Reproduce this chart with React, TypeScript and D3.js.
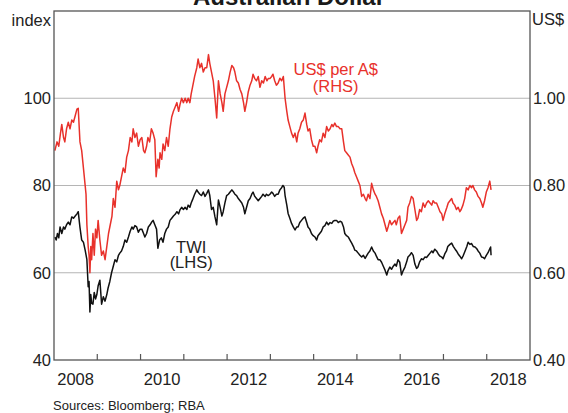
import React from 'react';
import * as d3 from 'd3';

// US$ per A$ (RHS), [decimal year, value]
const audSeries: [number, number][] = [
  [2008.02, 0.88], [2008.07, 0.9], [2008.11, 0.89], [2008.15, 0.92], [2008.18, 0.94], [2008.22, 0.91],
  [2008.25, 0.9], [2008.29, 0.93], [2008.33, 0.945], [2008.37, 0.93], [2008.41, 0.95], [2008.45, 0.945],
  [2008.49, 0.96], [2008.53, 0.975], [2008.56, 0.977], [2008.6, 0.9], [2008.64, 0.88], [2008.67, 0.85],
  [2008.72, 0.8], [2008.74, 0.78], [2008.76, 0.71], [2008.79, 0.66], [2008.81, 0.64], [2008.83, 0.6],
  [2008.85, 0.66], [2008.87, 0.63], [2008.9, 0.69], [2008.93, 0.64], [2008.96, 0.7], [2008.99, 0.68],
  [2009.02, 0.72], [2009.06, 0.675], [2009.1, 0.64], [2009.14, 0.65], [2009.18, 0.63], [2009.22, 0.66],
  [2009.26, 0.69], [2009.3, 0.71], [2009.34, 0.73], [2009.37, 0.77], [2009.41, 0.75], [2009.45, 0.81],
  [2009.49, 0.79], [2009.52, 0.8], [2009.56, 0.82], [2009.6, 0.84], [2009.64, 0.83], [2009.68, 0.865],
  [2009.72, 0.88], [2009.76, 0.91], [2009.8, 0.9], [2009.83, 0.93], [2009.87, 0.91], [2009.91, 0.92],
  [2009.95, 0.89], [2009.99, 0.905], [2010.03, 0.91], [2010.07, 0.88], [2010.1, 0.875], [2010.14, 0.89],
  [2010.17, 0.91], [2010.21, 0.9], [2010.25, 0.93], [2010.29, 0.92], [2010.33, 0.905], [2010.36, 0.82],
  [2010.4, 0.86], [2010.43, 0.84], [2010.45, 0.875], [2010.49, 0.86], [2010.52, 0.895], [2010.56, 0.88],
  [2010.6, 0.91], [2010.64, 0.89], [2010.68, 0.93], [2010.72, 0.957], [2010.76, 0.97], [2010.8, 0.98],
  [2010.84, 0.99], [2010.88, 0.97], [2010.91, 0.985], [2010.95, 1.0], [2010.99, 0.99], [2011.03, 1.0],
  [2011.07, 0.99], [2011.1, 1.0], [2011.14, 0.99], [2011.17, 1.01], [2011.2, 1.025], [2011.25, 1.05],
  [2011.3, 1.07], [2011.33, 1.09], [2011.37, 1.07], [2011.41, 1.08], [2011.45, 1.06], [2011.49, 1.07],
  [2011.53, 1.07], [2011.57, 1.1], [2011.6, 1.08], [2011.64, 1.06], [2011.68, 1.04], [2011.72, 1.0],
  [2011.76, 0.955], [2011.8, 1.04], [2011.84, 1.01], [2011.88, 0.99], [2011.91, 0.97], [2011.95, 1.01],
  [2011.99, 1.025], [2012.03, 1.04], [2012.07, 1.06], [2012.11, 1.075], [2012.15, 1.07], [2012.18, 1.06],
  [2012.22, 1.04], [2012.26, 1.035], [2012.3, 1.02], [2012.34, 1.01], [2012.38, 0.99], [2012.41, 0.97],
  [2012.45, 0.99], [2012.49, 1.015], [2012.53, 1.03], [2012.57, 1.04], [2012.6, 1.055], [2012.64, 1.045],
  [2012.68, 1.04], [2012.72, 1.05], [2012.76, 1.025], [2012.8, 1.04], [2012.84, 1.035], [2012.88, 1.05],
  [2012.92, 1.04], [2012.95, 1.045], [2012.99, 1.045], [2013.03, 1.05], [2013.06, 1.055], [2013.1, 1.04],
  [2013.14, 1.03], [2013.18, 1.035], [2013.22, 1.046], [2013.26, 1.04], [2013.3, 1.05], [2013.34, 1.0],
  [2013.38, 0.97], [2013.41, 0.95], [2013.45, 0.935], [2013.49, 0.92], [2013.53, 0.91], [2013.57, 0.92],
  [2013.61, 0.9], [2013.64, 0.92], [2013.68, 0.93], [2013.72, 0.945], [2013.76, 0.95], [2013.8, 0.966],
  [2013.84, 0.94], [2013.87, 0.925], [2013.91, 0.93], [2013.95, 0.905], [2013.99, 0.89], [2014.03, 0.89],
  [2014.07, 0.875], [2014.1, 0.89], [2014.14, 0.905], [2014.18, 0.9], [2014.22, 0.92], [2014.26, 0.91],
  [2014.3, 0.935], [2014.34, 0.925], [2014.38, 0.93], [2014.42, 0.94], [2014.45, 0.935], [2014.49, 0.943],
  [2014.53, 0.935], [2014.57, 0.935], [2014.61, 0.93], [2014.65, 0.93], [2014.69, 0.9], [2014.72, 0.88],
  [2014.76, 0.875], [2014.8, 0.87], [2014.84, 0.865], [2014.88, 0.85], [2014.92, 0.84], [2014.95, 0.83],
  [2014.99, 0.82], [2015.03, 0.81], [2015.07, 0.8], [2015.11, 0.775], [2015.15, 0.78], [2015.19, 0.77],
  [2015.22, 0.765], [2015.26, 0.78], [2015.3, 0.77], [2015.34, 0.805], [2015.38, 0.79], [2015.42, 0.78],
  [2015.45, 0.775], [2015.49, 0.765], [2015.53, 0.75], [2015.57, 0.735], [2015.61, 0.725], [2015.65, 0.71],
  [2015.69, 0.695], [2015.72, 0.705], [2015.76, 0.72], [2015.8, 0.71], [2015.84, 0.715], [2015.88, 0.72],
  [2015.91, 0.71], [2015.95, 0.725], [2015.99, 0.73], [2016.03, 0.69], [2016.07, 0.7], [2016.11, 0.71],
  [2016.15, 0.72], [2016.18, 0.75], [2016.22, 0.76], [2016.26, 0.775], [2016.3, 0.77], [2016.34, 0.745],
  [2016.38, 0.72], [2016.41, 0.725], [2016.45, 0.745], [2016.49, 0.74], [2016.53, 0.76], [2016.57, 0.75],
  [2016.61, 0.76], [2016.65, 0.765], [2016.69, 0.76], [2016.73, 0.755], [2016.76, 0.765], [2016.8, 0.76],
  [2016.84, 0.76], [2016.88, 0.75], [2016.92, 0.74], [2016.96, 0.735], [2016.99, 0.72], [2017.03, 0.735],
  [2017.08, 0.75], [2017.11, 0.76], [2017.15, 0.765], [2017.19, 0.77], [2017.22, 0.76], [2017.26, 0.755],
  [2017.3, 0.745], [2017.34, 0.75], [2017.38, 0.74], [2017.41, 0.745], [2017.45, 0.755], [2017.49, 0.77],
  [2017.53, 0.795], [2017.57, 0.79], [2017.61, 0.8], [2017.65, 0.795], [2017.68, 0.8], [2017.72, 0.79],
  [2017.76, 0.785], [2017.8, 0.775], [2017.84, 0.77], [2017.88, 0.76], [2017.91, 0.75], [2017.95, 0.765],
  [2017.99, 0.785], [2018.03, 0.795], [2018.07, 0.81], [2018.1, 0.79],
];

// trade-weighted index (LHS)
const twiSeries: [number, number][] = [
  [2008.02, 68.2], [2008.05, 67.5], [2008.08, 69], [2008.11, 68], [2008.14, 70.5], [2008.18, 69],
  [2008.22, 70.5], [2008.25, 70], [2008.29, 71], [2008.33, 71.6], [2008.37, 71], [2008.41, 72.8],
  [2008.45, 72.5], [2008.49, 73], [2008.53, 73.5], [2008.56, 74], [2008.6, 70.4], [2008.64, 67.5],
  [2008.68, 67], [2008.72, 65.2], [2008.76, 63], [2008.79, 56.8], [2008.81, 58], [2008.83, 51],
  [2008.85, 55], [2008.87, 53], [2008.9, 52.8], [2008.93, 55.5], [2008.96, 54], [2008.99, 55],
  [2009.02, 57], [2009.06, 58.3], [2009.1, 52.8], [2009.14, 54.5], [2009.18, 53.5], [2009.22, 55],
  [2009.25, 56.5], [2009.29, 58], [2009.33, 60], [2009.37, 61.5], [2009.41, 63], [2009.45, 62.5],
  [2009.49, 64], [2009.52, 64.5], [2009.56, 65], [2009.6, 66], [2009.64, 67.5], [2009.68, 67],
  [2009.72, 68.2], [2009.76, 69.5], [2009.8, 70.5], [2009.83, 70], [2009.87, 70.8], [2009.91, 70.5],
  [2009.95, 69.3], [2009.99, 70], [2010.03, 70], [2010.07, 69], [2010.1, 68.2], [2010.14, 69],
  [2010.18, 70.5], [2010.22, 71], [2010.25, 71.5], [2010.29, 72], [2010.33, 71], [2010.37, 70],
  [2010.4, 65.6], [2010.44, 67.5], [2010.48, 68], [2010.52, 67], [2010.56, 69], [2010.6, 70],
  [2010.64, 70.5], [2010.68, 72], [2010.72, 72.5], [2010.76, 73], [2010.8, 73.4], [2010.84, 74],
  [2010.88, 73.5], [2010.91, 74.4], [2010.95, 75], [2010.99, 74.5], [2011.03, 75], [2011.07, 74.5],
  [2011.1, 75.5], [2011.14, 75], [2011.17, 76], [2011.2, 76.7], [2011.25, 78], [2011.3, 79],
  [2011.33, 78.5], [2011.37, 78], [2011.41, 77.7], [2011.45, 78.5], [2011.49, 77.5], [2011.53, 78.2],
  [2011.57, 79], [2011.6, 77.7], [2011.64, 74.5], [2011.68, 75], [2011.72, 72.8], [2011.76, 71],
  [2011.8, 76.7], [2011.84, 75], [2011.88, 73], [2011.91, 74], [2011.95, 76], [2011.99, 77.7],
  [2012.03, 78], [2012.07, 78.5], [2012.11, 79], [2012.15, 78.5], [2012.18, 78], [2012.22, 77.7],
  [2012.26, 77], [2012.3, 76.5], [2012.34, 76], [2012.38, 75], [2012.41, 73.5], [2012.45, 75],
  [2012.49, 76.5], [2012.53, 77], [2012.57, 78], [2012.6, 78.5], [2012.64, 77.5], [2012.68, 77],
  [2012.72, 76.5], [2012.76, 77], [2012.8, 77.5], [2012.83, 78], [2012.88, 77.5], [2012.91, 78],
  [2012.95, 77.7], [2012.99, 78], [2013.03, 78.5], [2013.06, 78.2], [2013.1, 77.5], [2013.14, 78],
  [2013.18, 78], [2013.22, 79], [2013.26, 79.5], [2013.29, 80], [2013.32, 79.6], [2013.34, 77.7],
  [2013.38, 75.5], [2013.41, 73.6], [2013.45, 72.5], [2013.49, 71.3], [2013.53, 70.5], [2013.57, 69.8],
  [2013.61, 70.5], [2013.64, 70.5], [2013.68, 71.5], [2013.72, 72], [2013.76, 72.5], [2013.8, 72.8],
  [2013.84, 71.5], [2013.87, 70.5], [2013.91, 70], [2013.95, 69], [2013.99, 68.5], [2014.03, 68.2],
  [2014.07, 67.5], [2014.1, 68.5], [2014.14, 69], [2014.18, 69.5], [2014.22, 70.5], [2014.26, 70.8],
  [2014.3, 71.6], [2014.34, 71], [2014.38, 71.5], [2014.42, 71.3], [2014.45, 71.8], [2014.49, 72],
  [2014.53, 72], [2014.57, 71.5], [2014.61, 71.8], [2014.65, 71.6], [2014.69, 70.5], [2014.72, 69],
  [2014.76, 68.5], [2014.8, 68.2], [2014.84, 67.5], [2014.88, 66.8], [2014.92, 66], [2014.95, 65.2],
  [2014.99, 65], [2015.03, 64.5], [2015.07, 64], [2015.11, 63.6], [2015.15, 64], [2015.19, 63.3],
  [2015.22, 63.8], [2015.26, 64.5], [2015.3, 65], [2015.34, 65.9], [2015.38, 65], [2015.42, 64.5],
  [2015.45, 63.8], [2015.49, 63], [2015.53, 63], [2015.57, 62.4], [2015.61, 61.5], [2015.65, 60.6],
  [2015.69, 59.5], [2015.72, 60.5], [2015.76, 61.3], [2015.8, 60.8], [2015.84, 61.5], [2015.88, 62],
  [2015.91, 61.5], [2015.95, 63], [2015.99, 62.4], [2016.03, 59.5], [2016.07, 60.5], [2016.11, 61.3],
  [2016.15, 62.5], [2016.18, 63.6], [2016.22, 64], [2016.26, 64.6], [2016.3, 64], [2016.34, 62],
  [2016.38, 61], [2016.41, 61.3], [2016.45, 62.5], [2016.49, 63.2], [2016.53, 63], [2016.57, 63.6],
  [2016.61, 63.5], [2016.65, 64], [2016.69, 64.5], [2016.73, 65], [2016.76, 64.6], [2016.8, 65.4],
  [2016.84, 65], [2016.88, 64.3], [2016.92, 63.8], [2016.96, 63.6], [2016.99, 63.2], [2017.03, 64.3],
  [2017.07, 65], [2017.1, 66], [2017.15, 66.5], [2017.19, 66.8], [2017.23, 66], [2017.27, 65.4],
  [2017.3, 65], [2017.34, 64.3], [2017.38, 63.8], [2017.42, 63.2], [2017.46, 64], [2017.5, 65],
  [2017.54, 66], [2017.57, 67], [2017.61, 66.5], [2017.65, 66.7], [2017.69, 66], [2017.73, 65.9],
  [2017.77, 65.5], [2017.8, 65], [2017.84, 64.5], [2017.88, 63.6], [2017.92, 63.5], [2017.95, 63.2],
  [2017.99, 64], [2018.03, 64.6], [2018.07, 65.5], [2018.09, 65.9], [2018.1, 64],
];

const leftTicks = [40, 60, 80, 100];
const rightTicks = [0.4, 0.6, 0.8, 1.0];
const gridLines = [60, 80, 100];
const yearLabels = [2008, 2010, 2012, 2014, 2016, 2018];

const W = 568;
const H = 413;
const margin = { top: 11, right: 38, bottom: 53, left: 54 };
const font = 'Arial, "Liberation Sans", sans-serif';
const red = '#e8312b';
const frame = '#555555';

export default function App() {
  const innerW = W - margin.left - margin.right;
  const innerH = H - margin.top - margin.bottom;

  const x = d3.scaleLinear().domain([2008, 2019]).range([0, innerW]);
  const yL = d3.scaleLinear().domain([40, 120]).range([innerH, 0]);
  const yR = d3.scaleLinear().domain([0.4, 1.2]).range([innerH, 0]);

  const twiLine = d3.line<[number, number]>().x(d => x(d[0])).y(d => yL(d[1]));
  const audLine = d3.line<[number, number]>().x(d => x(d[0])).y(d => yR(d[1]));

  const yearTicks = d3.range(2009, 2019);

  return (
    <svg width={W} height={H} style={{ position: 'absolute', left: 0, top: 0 }} fontFamily={font}>
      <text x={289} y={4.5} textAnchor="middle" fontSize={24} fontWeight="bold" fill="#1a1a1a">
        Australian Dollar
      </text>
      <g transform={`translate(${margin.left},${margin.top})`}>
        {gridLines.map(v => (
          <line key={v} x1={0} x2={innerW} y1={yL(v)} y2={yL(v)} stroke="#b5b5b5" strokeWidth={1.2} />
        ))}
        <path d={audLine(audSeries) || ''} fill="none" stroke={red} strokeWidth={1.5} strokeLinejoin="round" />
        <path d={twiLine(twiSeries) || ''} fill="none" stroke="#111" strokeWidth={1.5} strokeLinejoin="round" />
        <rect x={0} y={0} width={innerW} height={innerH} fill="none" stroke={frame} strokeWidth={1.3} />
        {yearTicks.map(t => (
          <line key={t} x1={x(t)} x2={x(t)} y1={innerH} y2={innerH - 6} stroke={frame} strokeWidth={1.2} />
        ))}
        {leftTicks.map(v => (
          <text key={v} x={-3} y={yL(v)} dy="0.35em" textAnchor="end" fontSize={16.5} fill="#222">
            {v}
          </text>
        ))}
        {rightTicks.map(v => (
          <text key={v} x={innerW + 3} y={yR(v)} dy="0.35em" textAnchor="start" fontSize={16.5} fill="#222">
            {v.toFixed(2)}
          </text>
        ))}
        {yearLabels.map(yr => (
          <text key={yr} x={x(yr + 0.5)} y={innerH + 25} textAnchor="middle" fontSize={16.5} fill="#222">
            {yr}
          </text>
        ))}
        <text x={-3} y={15} textAnchor="end" fontSize={16.5} fill="#222">index</text>
        <text x={innerW + 2} y={14} textAnchor="start" fontSize={16.5} fill="#222">US$</text>
        <text x={x(2014.51)} y={yR(1.053)} textAnchor="middle" fontSize={16.5} fill={red}>US$ per A$</text>
        <text x={x(2014.51)} y={yR(1.015)} textAnchor="middle" fontSize={16.5} fill={red}>(RHS)</text>
        <text x={x(2011.17)} y={yL(64.5)} textAnchor="middle" fontSize={16.5} fill="#222">TWI</text>
        <text x={x(2011.17)} y={yL(61)} textAnchor="middle" fontSize={16.5} fill="#222">(LHS)</text>
      </g>
      <text x={53} y={410} fontSize={13} fill="#222">Sources: Bloomberg; RBA</text>
    </svg>
  );
}
